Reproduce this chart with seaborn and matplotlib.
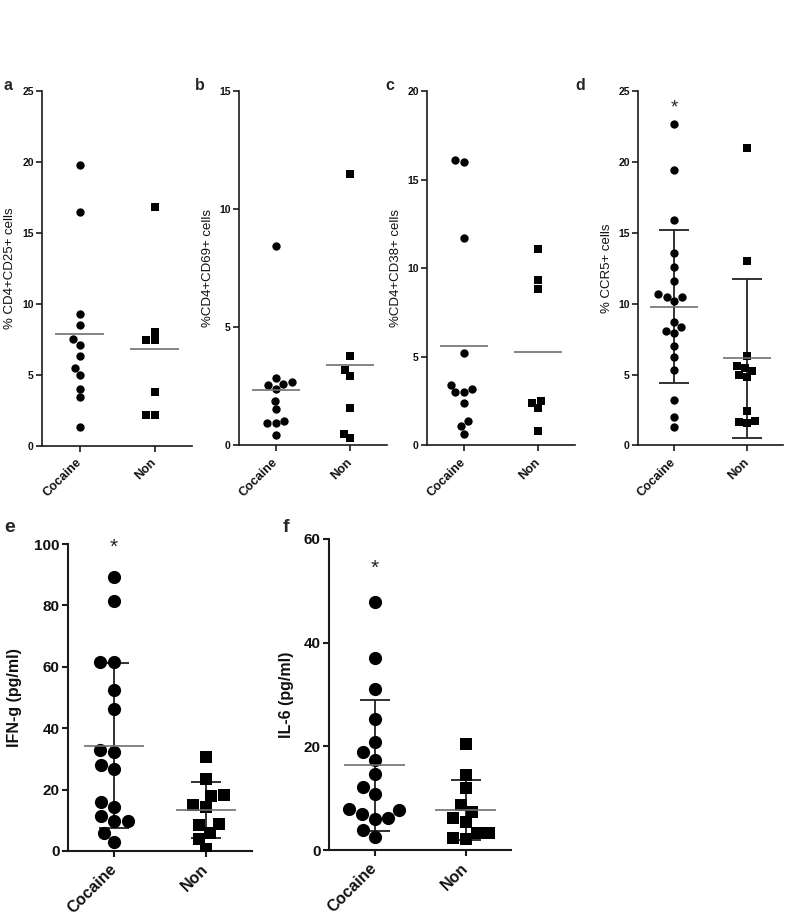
import numpy as np
import pandas as pd
import matplotlib
matplotlib.use('Agg')
from matplotlib import pyplot as plt
import seaborn as sns

groups = ['Cocaine', 'Non']

# values (one list per group and panel)
a_coc = [19.8, 16.5, 9.3, 8.5, 7.5, 7.1, 6.3, 5.5, 5.0, 4.0, 3.4, 1.3]
a_non = [16.8, 8.0, 7.45, 7.45, 3.8, 2.15, 2.15]
b_coc = [8.45, 2.7, 2.55, 2.4, 2.6, 2.85, 1.9, 1.55, 0.95, 1.05, 0.95, 0.45]
b_non = [11.5, 3.8, 3.2, 2.95, 1.6, 0.5, 0.3]
c_coc = [16.0, 16.1, 11.7, 5.2, 3.4, 3.0, 3.2, 3.0, 2.4, 1.4, 1.1, 0.65]
c_non = [11.1, 9.35, 8.85, 2.4, 2.5, 2.1, 0.8]
d_coc = [22.7, 19.4, 15.9, 13.6, 12.6, 11.6, 10.7, 10.5, 10.2, 10.5,
         8.35, 8.7, 7.95, 8.05, 7.05, 6.25, 5.3, 3.2, 2.0, 1.3]
d_non = [21.0, 13.0, 6.3, 5.6, 5.25, 4.85, 5.0, 5.5, 2.45, 1.7, 1.6, 1.65]
e_coc = [89.1, 81.5, 61.5, 61.5, 52.3, 46.4, 32.3, 32.8, 26.6, 27.9,
         14.4, 15.8, 9.9, 9.9, 11.4, 5.9, 2.9]
e_non = [30.7, 23.3, 18.4, 18.0, 15.0, 14.4, 8.7, 8.4, 6.0, 3.8, 0.5]
f_coc = [47.8, 37.0, 31.1, 25.3, 20.9, 18.9, 17.4, 14.6, 12.2, 10.9,
         7.8, 8.0, 6.9, 5.9, 6.2, 3.9, 2.5]
f_non = [20.5, 14.4, 12.0, 8.6, 7.4, 6.1, 5.4, 3.2, 2.1, 2.4, 3.2]

sns.set_theme(style='ticks')
plt.rcParams['font.family'] = ['Liberation Sans', 'DejaVu Sans']

W, H = 787, 914
fig = plt.figure(figsize=(W / 100, H / 100), dpi=100)


def rect(left, top, right, bottom):
    return [left / W, 1 - bottom / H, (right - left) / W, (bottom - top) / H]


def panel(box, coc, non, ylabel, ymax, step, letter, letter_xy,
          big=False, sd=False, star=None, label_x=-0.2):
    ax = fig.add_axes(box)
    df = pd.DataFrame({'group': ['Cocaine'] * len(coc) + ['Non'] * len(non),
                       'value': coc + non})
    ms = 9.5 if big else 6
    sns.swarmplot(data=df[df['group'] == 'Cocaine'], x='group', y='value',
                  order=groups, marker='o', color='black', size=ms, ax=ax, zorder=4)
    sns.swarmplot(data=df[df['group'] == 'Non'], x='group', y='value',
                  order=groups, marker='s', color='black', size=ms * 0.92, ax=ax, zorder=4)

    stats = df.groupby('group')['value'].agg(['mean', 'std']).reindex(groups)
    if sd:
        ax.errorbar(range(len(groups)), stats['mean'], yerr=stats['std'], fmt='none',
                    ecolor='#222222', elinewidth=1.3, capsize=11, capthick=1.3, zorder=3)
    for i, g in enumerate(groups):
        ax.hlines(stats.loc[g, 'mean'], i - 0.33, i + 0.33, color='#707070',
                  lw=1.2, zorder=5)

    ax.set_xlim(-0.5, 1.5)
    ax.set_ylim(0, ymax)
    ax.set_yticks(np.arange(0, ymax + 0.1, step))
    ax.set_xlabel('')
    lw = 1.5 if big else 1.2
    for s in ['left', 'bottom']:
        ax.spines[s].set_linewidth(lw)
        ax.spines[s].set_color('#1a1a1a')
    sns.despine(ax=ax)
    ax.tick_params(axis='both', direction='out', length=4, width=lw,
                   color='#1a1a1a', pad=2)
    tfs = 11 if big else 7.5
    xfs = 11.5 if big else 9
    for t in ax.get_yticklabels():
        t.set_fontweight('bold')
        t.set_fontsize(tfs)
        t.set_color('#111111')
    ax.set_xticks(range(len(groups)))
    ax.set_xticklabels(groups, rotation=45, ha='right', va='center',
                       rotation_mode='anchor', fontweight='bold', fontsize=xfs,
                       color='#111111')
    ax.tick_params(axis='x', pad=7)
    ax.set_ylabel(ylabel, fontsize=11.5 if big else 9.5,
                  fontweight='bold' if big else 'normal', color='#111111')
    ax.yaxis.set_label_coords(label_x, 0.5)
    if star is not None:
        ax.text(0, star, '*', ha='center', va='center',
                fontsize=15 if big else 13.5, color='#222222')
    fig.text(letter_xy[0] / W, 1 - letter_xy[1] / H, letter, fontweight='bold',
             fontsize=14 if big else 11.5, ha='left', va='center')
    return ax


panel(rect(42, 91, 192, 445.7), a_coc, a_non, '% CD4+CD25+ cells', 25, 5,
      'a', (4, 85), label_x=-0.17)
panel(rect(239, 91, 387, 445.5), b_coc, b_non, '%CD4+CD69+ cells', 15, 5,
      'b', (195, 85), label_x=-0.17)
panel(rect(427, 91, 575, 445.5), c_coc, c_non, '%CD4+CD38+ cells', 20, 5,
      'c', (385, 85), label_x=-0.17)
panel(rect(638, 91, 783, 445.5), d_coc, d_non, '% CCR5+ cells', 25, 5,
      'd', (575, 85), sd=True, star=23.8, label_x=-0.17)
panel(rect(68, 544, 252, 851), e_coc, e_non, 'IFN-g (pg/ml)', 100, 20,
      'e', (4, 528), big=True, sd=True, star=99, label_x=-0.25)
panel(rect(329, 539, 511, 850), f_coc, f_non, 'IL-6 (pg/ml)', 60, 20,
      'f', (283, 528), big=True, sd=True, star=54.3, label_x=-0.19)

fig.savefig('out.png', dpi=100)
